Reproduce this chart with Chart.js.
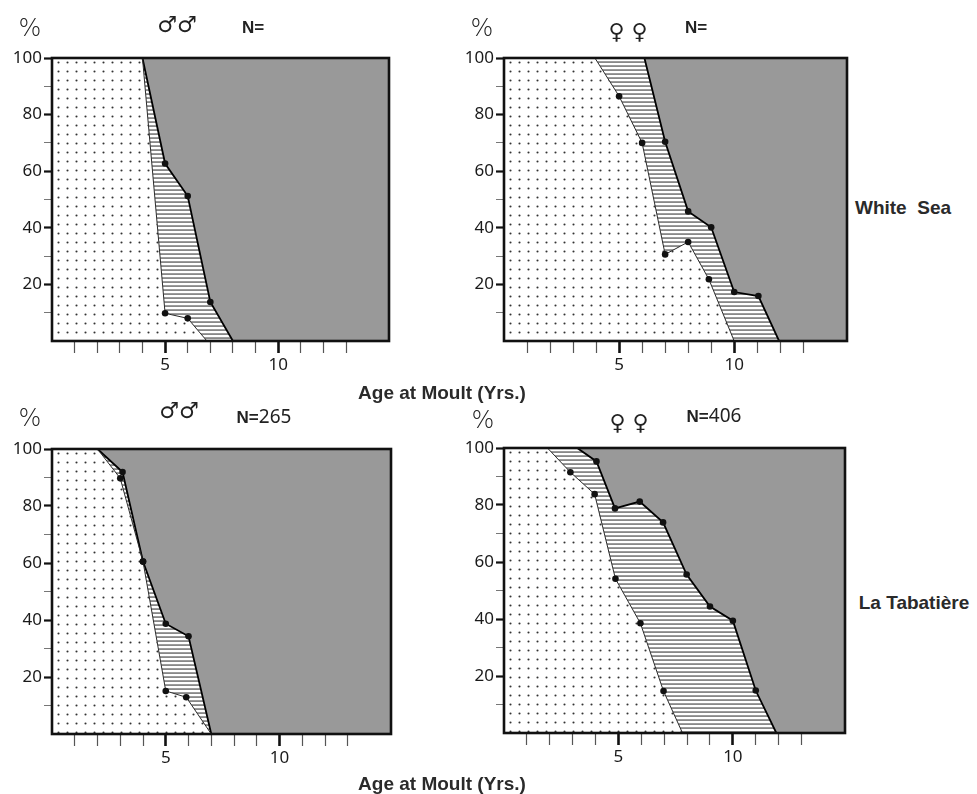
<!DOCTYPE html>
<html>
<head>
<meta charset="utf-8">
<script src="https://cdn.jsdelivr.net/npm/chart.js@4.4.1/dist/chart.umd.min.js"></script>
<style>
  html, body { margin: 0; padding: 0; background: #fff; }
  #page { position: relative; width: 977px; height: 794px; overflow: hidden; background: #fff; }
  canvas { position: absolute; }
  .lbl { position: absolute; transform: translate(-50%, -50%); white-space: nowrap; color: #222; line-height: 1; }
  .pct { font-family: "DejaVu Sans", sans-serif; font-size: 24px; font-weight: 300; }
  .sex { font-family: "DejaVu Sans", sans-serif; font-size: 22px; }
  .n { font-family: "Liberation Sans", Arial, sans-serif; font-size: 17px; font-weight: bold; }
  .n span { font-weight: normal; font-family: "Noto Sans", sans-serif; font-size: 19px; }
  .side, .axis { font-family: "Liberation Sans", Arial, sans-serif; font-size: 19px; font-weight: bold; color: #2a2a2a; }
</style>
</head>
<body>
<div id="page">
  <canvas id="wsMale" width="393" height="345" style="left:0px;top:40px"></canvas>
  <canvas id="wsFemale" width="399" height="345" style="left:452px;top:40px"></canvas>
  <canvas id="ltMale" width="395" height="347" style="left:0px;top:431px"></canvas>
  <canvas id="ltFemale" width="397" height="347" style="left:452px;top:430px"></canvas>

  <div class="lbl pct" style="left:30px;top:28px">%</div>
  <div class="lbl sex" style="left:177px;top:25px">♂♂</div>
  <div class="lbl n" style="left:253px;top:27px">N=</div>

  <div class="lbl pct" style="left:482px;top:28px">%</div>
  <div class="lbl sex" style="left:628px;top:32px">♀ ♀</div>
  <div class="lbl n" style="left:696px;top:27px">N=</div>

  <div class="lbl pct" style="left:30px;top:418px">%</div>
  <div class="lbl sex" style="left:179px;top:411px">♂♂</div>
  <div class="lbl n" style="left:264px;top:416px">N=<span>265</span></div>

  <div class="lbl pct" style="left:483px;top:420px">%</div>
  <div class="lbl sex" style="left:629px;top:423px">♀ ♀</div>
  <div class="lbl n" style="left:714px;top:415px">N=<span>406</span></div>

  <div class="lbl side" style="left:903px;top:207px">White&nbsp; Sea</div>
  <div class="lbl side" style="left:914px;top:602px">La Tabatière</div>
  <div class="lbl axis" style="left:442px;top:392px">Age at Moult&nbsp;(Yrs.)</div>
  <div class="lbl axis" style="left:442px;top:783px">Age at Moult (Yrs.)</div>
</div>
<script>
// age (yrs) / cumulative % pairs
// "lower" = edge of the dotted area, "upper" = edge of the grey area
const wsMaleLower = [[4, 100], [5, 9.8], [6, 8], [6.85, 0]]
const wsMaleUpper = [[4, 100], [5, 62.7], [6, 51.2], [7, 13.8], [8, 0]]

const wsFemaleLower = [[3.95, 100], [5, 86.5], [6, 70], [7, 30.6], [8, 35], [8.9, 21.8], [10, 0]]
const wsFemaleUpper = [[6.1, 100], [7, 70.4], [8, 45.8], [9, 40.2], [10, 17.3], [11.05, 15.9], [11.95, 0]]

const ltMaleLower = [[2, 100], [3, 89.7], [4, 60.5], [5, 15.1], [5.9, 12.9], [7, 0]]
const ltMaleUpper = [[2, 100], [3.1, 91.9], [4, 60.5], [5, 38.7], [6, 34.3], [7, 0]]

const ltFemaleLower = [[1.9, 100], [2.9, 91.5], [3.96, 83.8], [4.87, 54.1], [5.96, 38.5], [6.97, 14.7], [7.8, 0]]
const ltFemaleUpper = [[3.2, 100], [4.04, 95.3], [4.85, 78.8], [5.93, 81.2], [6.95, 73.9], [7.98, 55.6], [9, 44.4], [10, 39.4], [11, 14.9], [11.9, 0]]

const X_MAX = 14.9
const Y_MAX = 100
const xLabels = [5, 10]
const yLabels = [20, 40, 60, 80, 100]

const tickFont = { family: 'Noto Sans', size: 17 }

function makeDots(ctx) {
	const c = document.createElement('canvas')
	c.width = 9
	c.height = 9
	const g = c.getContext('2d')
	g.fillStyle = '#fff'
	g.fillRect(0, 0, 9, 9)
	g.fillStyle = '#333'
	g.beginPath()
	g.arc(4.5, 4.5, 1.05, 0, Math.PI * 2)
	g.fill()
	return ctx.createPattern(c, 'repeat')
}

function makeHatch(ctx) {
	const c = document.createElement('canvas')
	c.width = 4
	c.height = 4
	const g = c.getContext('2d')
	g.fillStyle = '#fff'
	g.fillRect(0, 0, 4, 4)
	g.fillStyle = '#3a3a3a'
	g.fillRect(0, 1.5, 4, 1.1)
	return ctx.createPattern(c, 'repeat')
}

// pad each curve out to the corners so the fills close properly
function toPoints(curve) {
	return [
		{ x: 0, y: Y_MAX },
		...curve.map(([x, y]) => ({ x, y })),
		{ x: X_MAX, y: 0 },
	]
}

// only the measured points inside a curve get a dot
function markerRadius(ctx) {
	const n = ctx.dataset.data.length
	const i = ctx.dataIndex
	return i <= 1 || i >= n - 2 ? 0 : 3.3
}

const framePlugin = {
	id: 'frame',
	afterDatasetsDraw(chart) {
		const { ctx, chartArea: a } = chart
		ctx.save()
		ctx.lineWidth = 2.6
		ctx.strokeStyle = '#111'
		ctx.strokeRect(a.left, a.top, a.right - a.left, a.bottom - a.top)
		ctx.restore()
	},
}

function drawPanel(id, lower, upper) {
	const canvas = document.getElementById(id)
	const ctx = canvas.getContext('2d')

	new Chart(canvas, {
		type: 'line',
		data: {
			datasets: [
				{
					data: toPoints(lower),
					borderColor: '#2a2a2a',
					borderWidth: 1,
					backgroundColor: makeDots(ctx),
					fill: 'origin',
					pointRadius: markerRadius,
					pointBackgroundColor: '#111',
					pointBorderWidth: 0,
				},
				{
					data: toPoints(upper),
					borderColor: '#000',
					borderWidth: 1.8,
					backgroundColor: makeHatch(ctx),
					fill: '-1',
					pointRadius: markerRadius,
					pointBackgroundColor: '#111',
					pointBorderWidth: 0,
				},
				{
					data: [{ x: 0, y: Y_MAX }, { x: X_MAX, y: Y_MAX }],
					borderWidth: 0,
					pointRadius: 0,
					backgroundColor: '#999999',
					fill: '-1',
				},
			],
		},
		options: {
			responsive: false,
			animation: false,
			devicePixelRatio: 1,
			layout: { padding: { top: 18, right: 4, bottom: 0, left: 0 } },
			elements: { line: { tension: 0 } },
			plugins: {
				legend: { display: false },
				tooltip: { enabled: false },
				filler: { drawTime: 'beforeDatasetsDraw' },
			},
			scales: {
				x: {
					type: 'linear',
					min: 0,
					max: X_MAX,
					afterFit: s => { s.height = 44 },
					afterBuildTicks: s => {
						s.ticks = s.ticks.filter(t => Number.isInteger(t.value) && t.value > 0)
					},
					ticks: {
						stepSize: 1,
						autoSkip: false,
						maxRotation: 0,
						padding: 2,
						color: '#1a1a1a',
						font: tickFont,
						callback: v => (xLabels.includes(v) ? String(v) : ''),
					},
					grid: {
						drawOnChartArea: false,
						tickLength: 12,
						tickWidth: c => (c.tick && xLabels.includes(c.tick.value) ? 2.6 : 1.2),
						tickColor: c => (c.tick && xLabels.includes(c.tick.value) ? '#111' : '#555'),
					},
					border: { display: false },
				},
				y: {
					min: 0,
					max: Y_MAX,
					afterFit: s => { s.width = 52 },
					afterBuildTicks: s => {
						s.ticks = s.ticks.filter(t => t.value > 0)
					},
					ticks: {
						stepSize: 10,
						autoSkip: false,
						padding: 2,
						color: '#1a1a1a',
						font: tickFont,
						callback: v => (yLabels.includes(v) ? String(v) : ''),
					},
					grid: {
						drawOnChartArea: false,
						tickLength: 8,
						tickWidth: c => (c.tick && yLabels.includes(c.tick.value) ? 2.2 : 1),
						tickColor: c => (c.tick && yLabels.includes(c.tick.value) ? '#111' : '#777'),
					},
					border: { display: false },
				},
			},
		},
		plugins: [framePlugin],
	})
}

drawPanel('wsMale', wsMaleLower, wsMaleUpper)
drawPanel('wsFemale', wsFemaleLower, wsFemaleUpper)
drawPanel('ltMale', ltMaleLower, ltMaleUpper)
drawPanel('ltFemale', ltFemaleLower, ltFemaleUpper)
</script>
</body>
</html>
